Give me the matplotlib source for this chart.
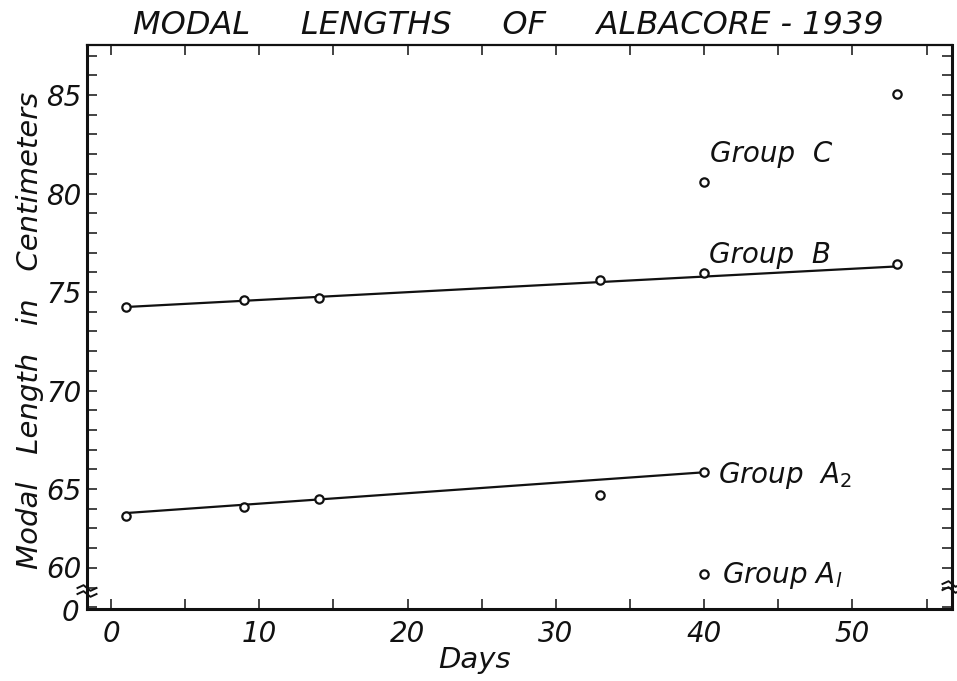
import numpy as np
import matplotlib
matplotlib.use("Agg")
import matplotlib.pyplot as plt
from matplotlib.ticker import MultipleLocator
import matplotlib.transforms as mtransforms

# ---- data ----
days_b = [1, 9, 14, 33, 40, 53]
length_b = [74.25, 74.6, 74.7, 75.6, 75.95, 76.4]
b_line_days = [1, 53]
b_line_vals = [74.24, 76.3]

days_a2 = [1, 9, 14, 33, 40]
length_a2 = [63.63, 64.07, 64.48, 64.7, 65.88]
a2_line_days = [1, 40]
a2_line_vals = [63.78, 65.85]

days_c = [40, 53]
length_c = [80.57, 85.05]

days_a1 = [40]
length_a1 = [60.7]

x_ticks = [0, 10, 20, 30, 40, 50]
y_ticks = [60, 65, 70, 75, 80, 85]

title = "MODAL     LENGTHS     OF     ALBACORE - 1939"
xlabel = "Days"
ylabel = "Modal   Length   in   Centimeters"

# ---- figure ----
W, H = 957, 681
fig = plt.figure(figsize=(W / 100, H / 100), dpi=100)
ax = fig.add_axes([87 / W, 1 - 609 / H, (952 - 87) / W, (609 - 45) / H])
ax.set_xlim(-1.62, 56.71)
ax.set_ylim(58.91, 87.54)

fam = "DejaVu Sans"
ink = "#111111"

mk = dict(marker="o", markersize=6, markerfacecolor="white",
          markeredgecolor=ink, markeredgewidth=1.6, linestyle="none", zorder=3)

ax.plot(b_line_days, b_line_vals, color=ink, lw=1.6, zorder=2)
ax.plot(a2_line_days, a2_line_vals, color=ink, lw=1.6, zorder=2)
ax.plot(days_b, length_b, **mk)
ax.plot(days_a2, length_a2, **mk)
ax.plot(days_c, length_c, **mk)
ax.plot(days_a1, length_a1, **mk)

# ticks
xt = np.arange(0, 56, 5)
ax.set_xticks(xt)
ax.set_xticklabels([str(t) if t in x_ticks else "" for t in xt])
ax.set_yticks(y_ticks)
ax.set_yticklabels([str(t) for t in y_ticks])
ax.yaxis.set_minor_locator(MultipleLocator(1))

ax.tick_params(axis="both", which="both", direction="in", top=True, right=True,
               color=ink, width=1.1)
ax.tick_params(axis="x", which="major", length=7, pad=8, labelsize=20)
ax.tick_params(axis="y", which="major", length=7, pad=4, labelsize=20)
ax.tick_params(axis="y", which="minor", length=7)
for lab in ax.get_xticklabels() + ax.get_yticklabels():
    lab.set_fontstyle("italic")
    lab.set_family(fam)
    lab.set_color(ink)

# as in the original drawing, the lowest label sits one tick above the break
ylabs = ax.get_yticklabels()
ylabs[0].set_transform(ylabs[0].get_transform() +
                       mtransforms.ScaledTranslation(0, 21 / 100, fig.dpi_scale_trans))

for side, sp in ax.spines.items():
    sp.set_linewidth(2.2 if side in ("left", "right", "bottom") else 1.6)
    sp.set_color(ink)

# broken axis marks and "0" at origin
def brk(xa, y0_px):
    for dy in (0, 6):
        yy = 1 - (y0_px + dy - 45) / (609 - 45)
        xs = np.array([-0.011, -0.004, 0.004, 0.011]) + xa
        ys = np.array([0.0, 0.005, -0.005, 0.0]) + yy
        ax.plot(xs, ys, transform=ax.transAxes, color=ink, lw=1.4, clip_on=False, zorder=4)

brk(0.0, 588)
brk(1.0, 584)

ax.text(-0.009, -0.007, "0", transform=ax.transAxes, ha="right", va="center",
        fontsize=20, fontstyle="italic", family=fam, color=ink)

# group labels
lbl = dict(fontsize=20, fontstyle="italic", family=fam, color=ink, ha="left", va="baseline")
ax.text(40.4, 81.6, "Group  C", **lbl)
ax.text(40.3, 76.45, "Group  B", **lbl)
ax.text(40.95, 65.3, r"Group  A$_2$", **lbl)
ax.text(41.2, 60.23, r"Group A$_{\mathit{l}}$", **lbl)

# title and axis labels
fig.text(508 / W, 1 - 26 / H, title, ha="center", va="center", fontsize=23,
         fontstyle="italic", family=fam, color=ink)
fig.text(475 / W, 1 - 660 / H, xlabel, ha="center", va="center", fontsize=21,
         fontstyle="italic", family=fam, color=ink)
fig.text(30 / W, 1 - 330 / H, ylabel, ha="center", va="center", rotation=90,
         fontsize=21, fontstyle="italic", family=fam, color=ink)

fig.savefig("out.png", dpi=100)
